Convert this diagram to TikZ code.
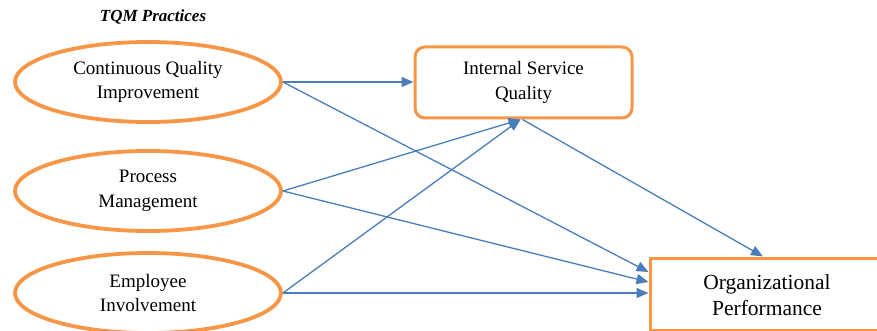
\documentclass[tikz,border=0pt]{standalone}
\usepackage{fontspec}
\setmainfont{Liberation Serif}
\usetikzlibrary{shapes.geometric,arrows.meta}
\definecolor{boxorange}{HTML}{F79646}
\definecolor{linkblue}{HTML}{4A7EBB}
\begin{document}
\begin{tikzpicture}[x=1pt,y=-1pt,
  practice/.style={ellipse,draw=boxorange,line width=3.8pt,minimum width=266pt,
    minimum height=80pt,inner sep=0pt,align=center,
    font=\fontsize{19}{24.5}\selectfont},
  outcome/.style={rectangle,draw=boxorange,line width=3pt,align=center,inner sep=0pt},
  link/.style={draw=linkblue,line width=1.3pt,-{Triangle[length=12pt,width=10pt]}}]
\useasboundingbox (0,0) rectangle (877,331);

% title
\node[font=\fontsize{17}{20}\selectfont\bfseries\itshape] (title) at (153,17) {TQM Practices};

% TQM practices
\node[practice] (cqi) at (148,82) {Continuous Quality\\Improvement};
\node[practice] (pm)  at (148,191) {Process\\Management};
\node[practice] (ei)  at (148,293) {Employee\\Involvement};

% mediator and outcome (the outcome box runs past the right edge)
\node[outcome,rounded corners=10pt,minimum width=217pt,minimum height=71pt,
  font=\fontsize{19}{24.5}\selectfont] (isq) at (523.5,82.5) {Internal Service\\Quality};
\node[outcome,minimum width=250pt,minimum height=72pt] (op) at (775,294) {};
\node[align=center,font=\fontsize{21.5}{26}\selectfont] (optext) at (767,295)
  {Organizational\\Performance};

% paths
\draw[link] (cqi.east) -- (cqi.east -| isq.west);
\draw[link] (cqi.east) -- ([yshift=22pt]op.west);
\draw[link] (pm.east) -- ([xshift=-3pt]isq.south);
\draw[link] (pm.east) -- ([yshift=12pt]op.west);
\draw[link] (ei.east) -- ([xshift=-3pt]isq.south);
\draw[link] (ei.east) -- (ei.east -| op.west);
\draw[link] ([xshift=-1pt]isq.south) -- ([xshift=-12pt]op.north);
\end{tikzpicture}
\end{document}
